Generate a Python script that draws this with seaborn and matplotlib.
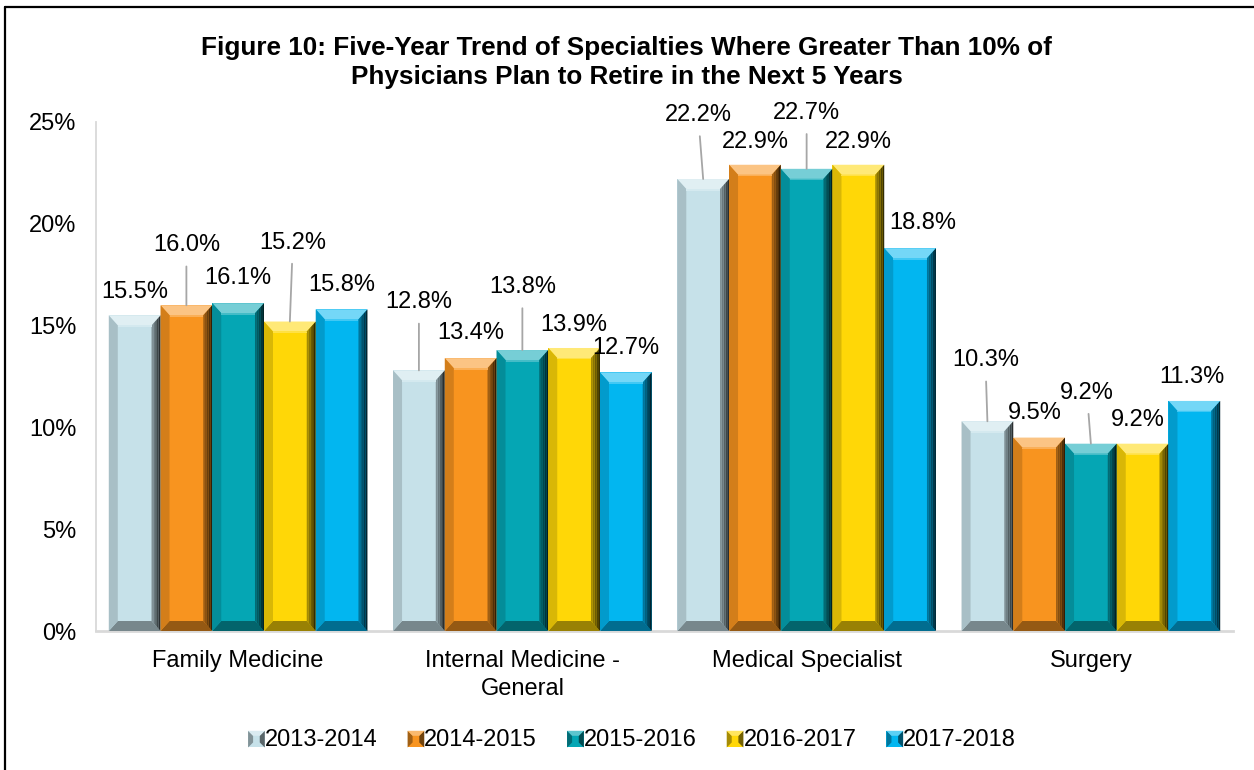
import numpy as np
import pandas as pd
import matplotlib
matplotlib.use("Agg")
import matplotlib.pyplot as plt
import seaborn as sns
from matplotlib.patches import Polygon
from matplotlib.lines import Line2D
from matplotlib.legend_handler import HandlerBase
from matplotlib.colors import to_rgb

# ---- data -------------------------------------------------------------
specialties = ["Family Medicine", "Internal Medicine -\nGeneral",
               "Medical Specialist", "Surgery"]
years = ["2013-2014", "2014-2015", "2015-2016", "2016-2017", "2017-2018"]
pct_2013_2014 = [15.5, 12.8, 22.2, 10.3]
pct_2014_2015 = [16.0, 13.4, 22.9, 9.5]
pct_2015_2016 = [16.1, 13.8, 22.7, 9.2]
pct_2016_2017 = [15.2, 13.9, 22.9, 9.2]
pct_2017_2018 = [15.8, 12.7, 18.8, 11.3]
series = [pct_2013_2014, pct_2014_2015, pct_2015_2016, pct_2016_2017, pct_2017_2018]
year_colors = ["#C6E1E9", "#F8941F", "#05A6B4", "#FFD707", "#02B6F0"]

title = ("Figure 10: Five-Year Trend of Specialties Where Greater Than 10% of\n"
         "Physicians Plan to Retire in the Next 5 Years")

# label placement (pixels relative to bar top centre) and leader flags,
# indexed [specialty][year]
label_dx = [[0, 0, 0, 3, 0],
            [0, 0, 0, 0, 0],
            [-5, 0, 0, 0, 13],
            [-2, -4, -4, -5, -2]]
label_dy = [[23, 60, 25, 79, 24],
            [68, 25, 63, 23, 24],
            [64, 23, 56, 23, 25],
            [61, 25, 51, 24, 24]]
leader = [[False, True, False, True, False],
          [True, False, True, False, False],
          [True, False, True, False, False],
          [True, False, True, False, False]]

df = pd.DataFrame({
    "specialty": np.repeat(specialties, len(years)),
    "year": years * len(specialties),
    "value": [series[k][j] for j in range(len(specialties)) for k in range(len(years))],
})

# ---- figure -----------------------------------------------------------
sns.set_theme(style="white")
plt.rcParams["font.family"] = ["Liberation Sans", "DejaVu Sans"]
plt.rcParams["text.color"] = "black"
plt.rcParams["xtick.color"] = "black"
plt.rcParams["ytick.color"] = "black"

fig = plt.figure(figsize=(12.54, 7.70), dpi=100)
ax = fig.add_axes([96 / 1254, 1 - 631 / 770, (1233 - 96) / 1254, (631 - 122) / 770])

sns.barplot(data=df, x="specialty", y="value", hue="year", order=specialties,
            hue_order=years, palette=year_colors, saturation=1, width=0.91,
            dodge=True, errorbar=None, legend=False, ax=ax, linewidth=0,
            zorder=2)

ax.set_xlim(-0.5, 3.5)
ax.set_ylim(0, 25)
ax.set_yticks([0, 5, 10, 15, 20, 25])
ax.set_yticklabels([f"{v}%" for v in [0, 5, 10, 15, 20, 25]])
ax.set_xlabel("")
ax.set_ylabel("")
ax.tick_params(axis="y", length=0, pad=14, labelsize=17, labelcolor="black")
ax.tick_params(axis="x", length=0, pad=14, labelsize=17, labelcolor="black")
for lbl in ax.get_xticklabels():
    lbl.set_linespacing(1.3)
for s in ["top", "right"]:
    ax.spines[s].set_visible(False)
ax.spines["left"].set_color("#D9D9D9")
ax.spines["left"].set_linewidth(1.3)
ax.spines["bottom"].set_color("#D9D9D9")
ax.spines["bottom"].set_linewidth(2.0)
ax.grid(False)


def mix(c, other, t):
    c = np.array(to_rgb(c))
    o = np.array(to_rgb(other))
    return tuple(c * (1 - t) + o * t)


# pixel -> data scale
bbox = ax.get_window_extent()
px_x = 4.0 / bbox.width
px_y = 25.0 / bbox.height
bx, by = 9 * px_x, 10 * px_y


def bevel(axis, x, y, w, h, base, z=3):
    polys = []
    # top facet
    polys.append(([(x, y + h), (x + w, y + h), (x + w - bx, y + h - by), (x + bx, y + h - by)],
                  mix(base, "white", 0.45)))
    # bottom facet
    polys.append(([(x, y), (x + w, y), (x + w - bx, y + by), (x + bx, y + by)],
                  mix(base, "black", 0.4)))
    # left facet
    polys.append(([(x, y), (x, y + h), (x + bx, y + h - by), (x + bx, y + by)],
                  mix(base, "black", 0.15)))
    for pts, col in polys:
        axis.add_patch(Polygon(pts, closed=True, facecolor=col, edgecolor="none", zorder=z))
    # right facet as a graded set of strips
    n = 5
    for i in range(n):
        f0, f1 = i / n, (i + 1) / n
        xa0 = x + w - bx * (1 - f0)
        xa1 = x + w - bx * (1 - f1)
        ya0, ya1 = by * (1 - f0), by * (1 - f1)
        pts = [(xa0, y + ya0), (xa1, y + ya1), (xa1, y + h - ya1), (xa0, y + h - ya0)]
        col = mix(base, "black", 0.3 + 0.55 * (i + 0.5) / n)
        axis.add_patch(Polygon(pts, closed=True, facecolor=col, edgecolor="none", zorder=z))
    # thin highlight along the inner top edge
    axis.add_patch(Polygon([(x + bx, y + h - by), (x + w - bx, y + h - by),
                            (x + w - bx, y + h - by - 1.5 * px_y), (x + bx, y + h - by - 1.5 * px_y)],
                           closed=True, facecolor=mix(base, "white", 0.25),
                           edgecolor="none", zorder=z))


for k, cont in enumerate(ax.containers):
    base = year_colors[k]
    for j, bar in enumerate(cont):
        x, w = bar.get_x(), bar.get_width()
        h = bar.get_height()
        bevel(ax, x, 0, w, h, base)
        val = series[k][j]
        cx = x + w / 2
        arrow = None
        if leader[j][k]:
            arrow = dict(arrowstyle="-", color="#A6A6A6", lw=1.3, shrinkA=5, shrinkB=0)
        ax.annotate(f"{val:.1f}%", xy=(cx, h),
                    xytext=(label_dx[j][k], label_dy[j][k]), textcoords="offset pixels",
                    ha="center", va="center", fontsize=17, color="black",
                    arrowprops=arrow, zorder=6)


# legend with small bevelled squares
class BevelSquare(HandlerBase):
    def create_artists(self, legend, orig_handle, xdescent, ydescent,
                       width, height, fontsize, trans):
        base = orig_handle.get_facecolor()
        s = 12 * 0.72 * 100 / 72
        x0 = -xdescent + (width - s) / 2
        y0 = -ydescent + (height - s) / 2 - 1
        b = s * 0.3
        arts = [
            Polygon([(x0, y0), (x0 + s, y0), (x0 + s, y0 + s), (x0, y0 + s)],
                    facecolor=base, edgecolor="none", transform=trans),
            Polygon([(x0, y0), (x0 + b, y0 + b), (x0 + b, y0 + s - b), (x0, y0 + s)],
                    facecolor=mix(base, "black", 0.35), edgecolor="none", transform=trans),
            Polygon([(x0 + s, y0), (x0 + s - b, y0 + b), (x0 + s - b, y0 + s - b), (x0 + s, y0 + s)],
                    facecolor=mix(base, "black", 0.55), edgecolor="none", transform=trans),
            Polygon([(x0, y0 + s), (x0 + b, y0 + s - b), (x0 + s - b, y0 + s - b), (x0 + s, y0 + s)],
                    facecolor=mix(base, "white", 0.35), edgecolor="none", transform=trans),
        ]
        return arts


handles = [plt.Rectangle((0, 0), 1, 1, facecolor=c) for c in year_colors]
fig.legend(handles, years, loc="center", bbox_to_anchor=(633 / 1254, 1 - 740 / 770),
           ncol=5, frameon=False, fontsize=17, handlelength=0.55, handleheight=0.7,
           handletextpad=0.08, columnspacing=1.35, labelcolor="black",
           handler_map={plt.Rectangle: BevelSquare()})

fig.text(626.5 / 1254, 1 - 62.5 / 770, title, ha="center", va="center",
         fontsize=18.8, fontweight="bold", linespacing=1.3, color="black")

# outer frame (top and left edges)
fig.add_artist(Line2D([5 / 1254, 1], [1 - 7 / 770, 1 - 7 / 770], color="black", lw=1.6,
                      transform=fig.transFigure))
fig.add_artist(Line2D([5 / 1254, 5 / 1254], [0, 1 - 7 / 770], color="black", lw=1.6,
                      transform=fig.transFigure))

fig.savefig("out.png", dpi=100, facecolor="white")
